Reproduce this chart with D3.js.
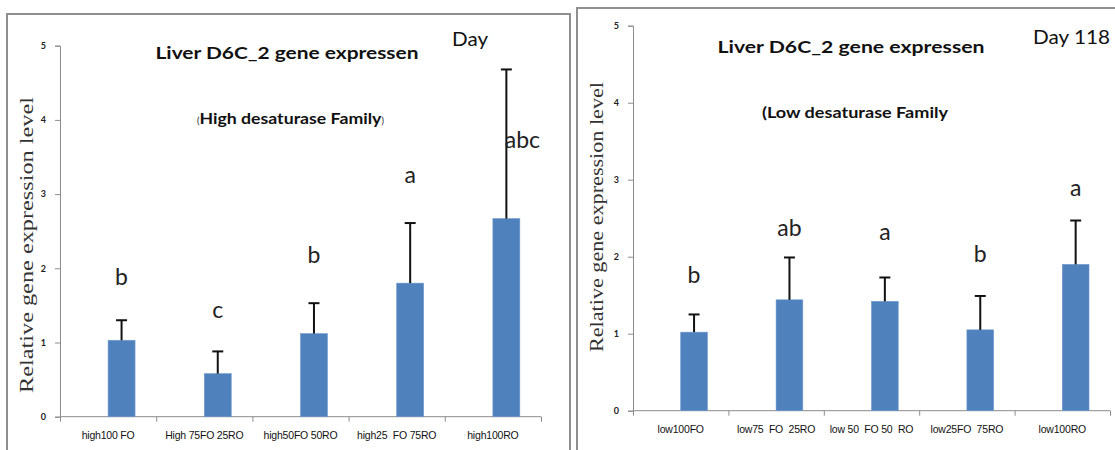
<!DOCTYPE html>
<html>
<head>
<meta charset="utf-8">
<script src="https://cdn.jsdelivr.net/npm/d3@7"></script>
<style>
  body { margin: 0; background: #fff; }
  svg { display: block; }
  text { white-space: pre; }
</style>
</head>
<body>
<div id="container"></div>
<script>
/* DATA | */
const highCats = ["high100 FO", "High 75FO 25RO", "high50FO 50RO", "high25  FO 75RO", "high100RO"];
const highMeans = [1.03, 0.58, 1.12, 1.80, 2.67];
const highErr = [0.27, 0.30, 0.41, 0.81, 2.01];
const highLetters = ["b", "c", "b", "a", "abc"];
const highLetterAt = [1.77, 1.33, 2.07, 3.15, 3.62]; /* height of the letter, in axis units */

const lowCats = ["low100FO", "low75  FO  25RO", "low 50  FO 50  RO", "low25FO  75RO", "low100RO"];
const lowMeans = [1.02, 1.44, 1.42, 1.05, 1.90];
const lowErr = [0.23, 0.55, 0.31, 0.44, 0.57];
const lowLetters = ["b", "ab", "a", "b", "a"];
const lowLetterAt = [1.66, 2.27, 2.22, 1.93, 2.79];

const yTicks = [0, 1, 2, 3, 4, 5];

/* CONSTANTS */
const width = 1115, height = 450;
const barColor = "#4f81bd";
const sans = "Lato, 'Open Sans', sans-serif";

const svg = d3.select("#container")
  .append("svg")
  .attr("width", width)
  .attr("height", height);

/* one panel = frame + axes + bars + error bars + letters */
function drawPanel(p) {
  const data = p.cats.map((c, i) => ({
    cat: c, mean: p.means[i], err: p.errs[i], letter: p.letters[i], letterAt: p.letterAt[i]
  }));

  const g = svg.append("g");

  g.append("rect")
    .attr("x", p.frame[0]).attr("y", p.frame[1])
    .attr("width", p.frame[2]).attr("height", p.frame[3])
    .attr("fill", "none")
    .attr("stroke", "#8f8f8f")
    .attr("stroke-width", 2);

  const xScale = d3.scaleBand()
    .domain(p.cats)
    .range([p.left, p.right]);

  const yScale = d3.scaleLinear()
    .domain([0, 5])
    .range([p.bottom, p.top]);

  const bw = xScale.bandwidth();
  const barW = bw * 0.28;

  /* y axis */
  const yAxis = d3.axisLeft(yScale)
    .tickValues(yTicks)
    .tickSize(5)
    .tickPadding(9)
    .tickFormat(d3.format("d"));

  const yAxisGroup = g.append("g")
    .attr("transform", `translate(${p.left},0)`)
    .call(yAxis);
  yAxisGroup.select(".domain").attr("stroke", "#8c8c8c");
  yAxisGroup.selectAll(".tick line").attr("stroke", "#8c8c8c");
  yAxisGroup.selectAll(".tick text")
    .style("font-family", sans)
    .style("font-size", "9px")
    .style("font-weight", "bold")
    .attr("fill", "#222");

  /* x axis: ticks on band edges, labels on band centres */
  const xAxisGroup = g.append("g")
    .attr("transform", `translate(0,${p.bottom})`);
  xAxisGroup.append("line")
    .attr("x1", p.left).attr("x2", p.right)
    .attr("stroke", "#8c8c8c");
  xAxisGroup.selectAll(".xtick")
    .data(p.cats.concat(["end"]))
    .join("line")
    .attr("class", "xtick")
    .attr("x1", (d, i) => p.left + i * bw + 0.5)
    .attr("x2", (d, i) => p.left + i * bw + 0.5)
    .attr("y1", 0).attr("y2", 5)
    .attr("stroke", "#8c8c8c");
  xAxisGroup.selectAll(".xlab")
    .data(p.cats)
    .join("text")
    .attr("class", "xlab")
    .attr("x", d => xScale(d) + bw / 2)
    .attr("y", 22)
    .attr("text-anchor", "middle")
    .style("font-family", "'Liberation Sans', Arial, sans-serif")
    .style("font-size", "10.5px")
    .style("letter-spacing", "-0.2px")
    .attr("fill", "#111")
    .text(d => d);

  /* bars start at the band centre, like an Excel cluster with an empty series */
  g.selectAll(".bar")
    .data(data)
    .join("rect")
    .attr("class", "bar")
    .attr("x", d => xScale(d.cat) + bw / 2)
    .attr("y", d => yScale(d.mean))
    .attr("width", barW)
    .attr("height", d => yScale(0) - yScale(d.mean))
    .attr("fill", barColor)
    .attr("stroke", "#6f97cc")
    .attr("stroke-width", 0.6);

  /* error bars (upper only) */
  const errG = g.selectAll(".err")
    .data(data)
    .join("g")
    .attr("class", "err")
    .attr("transform", d => `translate(${xScale(d.cat) + bw / 2 + barW / 2},0)`);
  errG.append("line")
    .attr("y1", d => yScale(d.mean))
    .attr("y2", d => yScale(d.mean + d.err))
    .attr("stroke", "#111")
    .attr("stroke-width", 2);
  errG.append("line")
    .attr("x1", -5.5).attr("x2", 5.5)
    .attr("y1", d => yScale(d.mean + d.err))
    .attr("y2", d => yScale(d.mean + d.err))
    .attr("stroke", "#111")
    .attr("stroke-width", 2);

  /* significance letters */
  g.selectAll(".letter")
    .data(data)
    .join("text")
    .attr("class", "letter")
    .attr("x", d => xScale(d.cat) + bw / 2 + barW / 2)
    .attr("dx", d => d.letter.length > 2 ? 16 : 0)
    .attr("y", d => yScale(d.letterAt))
    .attr("text-anchor", "middle")
    .style("font-family", sans)
    .style("font-size", "23px")
    .attr("fill", "#222")
    .text(d => d.letter);

  /* titles */
  g.append("text")
    .attr("x", p.titleX).attr("y", p.titleY)
    .attr("text-anchor", "middle")
    .attr("textLength", p.titleLen)
    .attr("lengthAdjust", "spacingAndGlyphs")
    .style("font-family", sans)
    .style("font-size", "17px")
    .style("font-weight", "bold")
    .attr("fill", "#111")
    .text("Liver D6C_2 gene expressen");

  g.append("text")
    .attr("x", p.dayX).attr("y", p.dayY)
    .attr("textLength", p.dayLen)
    .attr("lengthAdjust", "spacingAndGlyphs")
    .style("font-family", sans)
    .style("font-size", "20px")
    .attr("fill", "#111")
    .text(p.day);

  const sub = g.append("text")
    .attr("x", p.subX).attr("y", p.subY)
    .style("font-family", sans)
    .style("font-size", "15px")
    .style("font-weight", "bold")
    .attr("fill", "#111");
  p.sub.forEach(s => {
    const ts = sub.append("tspan")
      .style("font-size", s.small ? "9px" : "15px")
      .style("font-weight", s.small ? "normal" : "bold")
      .text(s.t);
    if (s.len) ts.attr("textLength", s.len).attr("lengthAdjust", "spacingAndGlyphs");
  });

  /* y axis title */
  g.append("text")
    .attr("transform", `translate(${p.yLabX},${p.yLabY}) rotate(-90)`)
    .attr("text-anchor", "middle")
    .attr("textLength", p.yLabLen)
    .attr("lengthAdjust", "spacingAndGlyphs")
    .style("font-family", "'Liberation Serif', 'Times New Roman', serif")
    .style("font-size", "19px")
    .attr("fill", "#333")
    .text("Relative gene expression level");
}

drawPanel({
  cats: highCats, means: highMeans, errs: highErr, letters: highLetters, letterAt: highLetterAt,
  frame: [7, 14, 563, 460],
  left: 60, right: 541, top: 45.7, bottom: 416.7,
  titleX: 287, titleY: 59, titleLen: 263,
  day: "Day", dayX: 452, dayY: 46, dayLen: 36,
  sub: [{ t: "(", small: true }, { t: "High desaturase Family", len: 182 }, { t: ")", small: true }],
  subX: 197, subY: 124,
  yLabX: 33, yLabY: 245, yLabLen: 296
});

drawPanel({
  cats: lowCats, means: lowMeans, errs: lowErr, letters: lowLetters, letterAt: lowLetterAt,
  frame: [577, 8, 560, 460],
  left: 633, right: 1110, top: 25.7, bottom: 410.7,
  titleX: 851, titleY: 53, titleLen: 267,
  day: "Day 118", dayX: 1033, dayY: 44, dayLen: 77,
  sub: [{ t: "(Low desaturase Family", len: 186 }],
  subX: 762, subY: 118,
  yLabX: 603, yLabY: 217, yLabLen: 270
});
</script>
</body>
</html>
